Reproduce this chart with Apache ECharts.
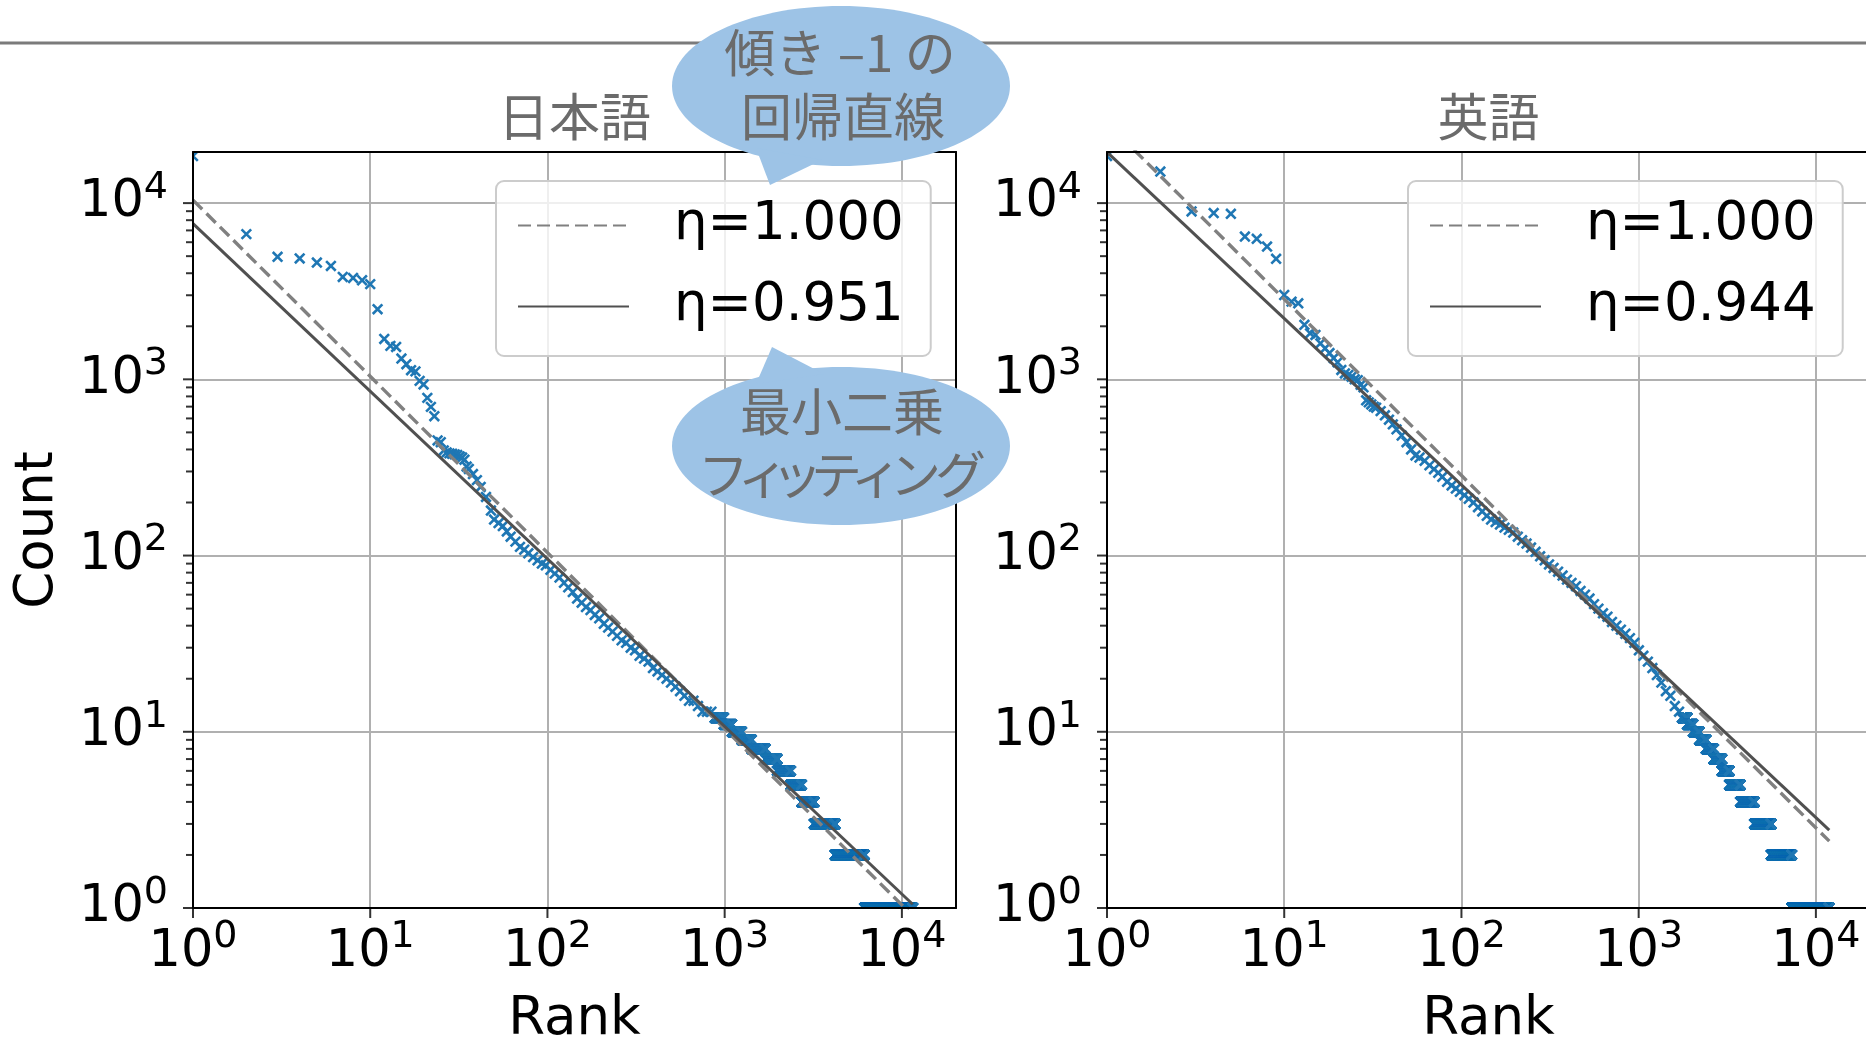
<!DOCTYPE html>
<html>
<head>
<meta charset="utf-8">
<script src="https://cdn.jsdelivr.net/npm/echarts@6/dist/echarts.min.js"></script>
<style>
  html, body { margin: 0; padding: 0; background: #ffffff; }
  #chart { width: 1866px; height: 1039px; }
</style>
</head>
<body>
<div id="chart"></div>
<script>
// ---------- word frequency by rank (Zipf plots) ----------
// Japanese corpus: individually listed ranks
const jaRank = [1,2,3,4,5,6,7,8,9,10,11,12,13,14,15,16,17,18,19,20,21,22,23,24,25,26,27,28,29,30,31,32,33,34,35,
  36,38,40,42,45,48,50,53,56,59,62,66,70,74,78,83,88,93,98,104,110,117,124,131,139,147,156,165,175,185,
  196,208,220,233,247,262,278,295,312,331,351,372,394,418,443,470,498,528,560,593,629,667,707,749,794,842];
const jaCount = [18500,6670,4960,4850,4600,4400,3810,3760,3650,3470,2500,1695,1548,1527,1312,1218,1127,1110,980,935,785,698,618,450,440,395,385,380,378,375,372,365,360,350,320,
  310,290,268,245,215,180,160,153,147,137,128,120,112,108,103,98,94,90,88,83,79,75,70,66,62,57,54,51,49,46,
  44,41,39,37,35,33,32,30,29,27,26,25,23,22,21,20,19,18,17,16,15,15,14,13,13,13];
// Japanese corpus: low counts shared by a block of consecutive ranks
const jaRunCount = [12, 11, 10, 9, 8, 7, 6, 5, 4, 3, 2, 1];
const jaRunFrom  = [880, 990, 1100, 1250, 1420, 1700, 1980, 2360, 2720, 3200, 4200, 6150];
const jaRunTo    = [989, 1099, 1249, 1419, 1699, 1979, 2359, 2719, 3199, 4199, 6149, 11500];

// English corpus: individually listed ranks
const enRank = [1,2,3,4,5,6,7,8,9,10,11,12,13,14,15,16,17,18,19,20,21,22,23,24,25,26,27,28,
  29,30,31,32,33,35,37,39,41,43,46,49,52,55,58,62,66,70,74,78,83,88,93,98,104,110,117,124,131,139,147,156,165,175,185,
  196,208,220,233,247,262,278,295,312,331,351,372,394,418,443,470,498,528,560,593,629,667,707,749,794,842,893,946,
  1003,1063,1127,1195,1267,1343,1424,1510,1600,1690];
const enCount = [18500,15100,8970,8780,8700,6460,6270,5670,4830,3010,2760,2700,2040,1825,1785,1600,1500,1410,1320,1250,1130,1080,1060,1035,1000,990,930,900,
  760,740,720,700,690,660,625,590,555,520,480,440,400,370,360,345,325,309,295,280,262,250,240,230,220,210,200,188,178,168,160,155,150,144,140,
  135,128,122,117,111,105,99,94,89,85,81,77,73,70,67,63,60,57,53,50,47,45,42,40,38,36,34,32,
  29,27,25,23,21,19,17,16,14,13];
// English corpus: low counts shared by a block of consecutive ranks
const enRunCount = [12, 11, 10, 9, 8, 7, 6, 5, 4, 3, 2, 1];
const enRunFrom  = [1760, 1880, 2030, 2200, 2400, 2650, 2950, 3250, 3750, 4500, 5600, 7300];
const enRunTo    = [1879, 2029, 2199, 2399, 2649, 2949, 3249, 3749, 4499, 5599, 7299, 11900];

// Fitted power laws: count = C * rank^(-eta)  [reference slope, least squares]
const jaEta  = [1.000, 0.951];
const jaFitC = [10400, 7640];
const enEta  = [1.000, 0.944];
const enFitC = [28500, 19450];

// Axis ranges and tick values
const rankMax = 20200;
const countMax = 19500;
const tickExponents = [0, 1, 2, 3, 4];
const minorMantissas = [2, 3, 4, 5, 6, 7, 8, 9];

// ---------- layout / style ----------
const FONT = 'DejaVu Sans';
const CJK = 'Noto Sans CJK JP';
const GRIDS = [
  { left: 193, top: 152, width: 763, height: 756 },
  { left: 1107, top: 152, width: 763, height: 756 }
];
const BLUE = '#1f77b4';
const DASH_COLOR = '#808080';
const SOLID_COLOR = '#505050';
const TEXT_GRAY = '#6b6b6b';
const BUBBLE = '#9dc3e6';

function powLabel(v) {
  const e = Math.log10(v), k = Math.round(e);
  return Math.abs(e - k) < 1e-6 ? '{b|10}{s|' + k + '}' : '';
}
const richPow = {
  b: { fontFamily: FONT, fontSize: 51, lineHeight: 51, color: '#000' },
  s: { fontFamily: FONT, fontSize: 38, height: 21, lineHeight: 21, verticalAlign: 'top', color: '#000' }
};

function mainX(g) {
  return {
    gridIndex: g, type: 'log', logBase: 10, min: 1, max: rankMax, position: 'bottom', z: 0,
    axisLine: { show: false }, axisTick: { show: false }, minorTick: { show: false },
    splitLine: { show: true, lineStyle: { color: '#b0b0b0', width: 2 } },
    axisLabel: { margin: 19, formatter: powLabel, rich: richPow },
    name: 'Rank', nameLocation: 'middle', nameGap: 86,
    nameTextStyle: { fontFamily: FONT, fontSize: 53, color: '#000' }
  };
}
function mainY(g, withName) {
  const ax = {
    gridIndex: g, type: 'log', logBase: 10, min: 1, max: countMax, position: 'left', z: 0,
    axisLine: { show: false }, axisTick: { show: false }, minorTick: { show: false },
    splitLine: { show: true, lineStyle: { color: '#b0b0b0', width: 2 } },
    axisLabel: { margin: 25, formatter: powLabel, rich: richPow }
  };
  if (withName) {
    Object.assign(ax, {
      name: 'Count', nameLocation: 'middle', nameRotate: 90, nameGap: 128,
      nameTextStyle: { fontFamily: FONT, fontSize: 53, color: '#000' }
    });
  }
  return ax;
}
function spine(g, position) {
  return {
    gridIndex: g, type: 'value', min: 0, max: 1, position: position, z: 4, silent: true,
    axisLine: { show: true, onZero: false, lineStyle: { color: '#000', width: 2 } },
    axisTick: { show: false }, axisLabel: { show: false }, splitLine: { show: false }
  };
}

// blue "x" markers, one per rank, clipped to the plotting area
function crossSeries(name, g, ranks, counts, runCount, runFrom, runTo) {
  const pts = ranks.map((r, i) => [r, counts[i]]);
  runCount.forEach((c, i) => {
    for (let r = runFrom[i]; r <= runTo[i]; r++) pts.push([r, c]);
  });
  return {
    type: 'custom', name: name, xAxisIndex: g, yAxisIndex: g, data: pts,
    z: 2, silent: true, animation: false, progressive: 0,
    renderItem(params, api) {
      const p = api.coord([api.value(0), api.value(1)]);
      const s = 4.8, x = p[0], y = p[1];
      const cs = params.coordSys;
      const el = {
        type: 'path',
        shape: { pathData: 'M' + (x - s) + ' ' + (y - s) + 'L' + (x + s) + ' ' + (y + s) +
                           'M' + (x + s) + ' ' + (y - s) + 'L' + (x - s) + ' ' + (y + s) },
        style: { stroke: BLUE, lineWidth: 2.6, fill: 'none' }
      };
      if (x - s < cs.x || x + s > cs.x + cs.width || y - s < cs.y || y + s > cs.y + cs.height) {
        el.clipPath = { type: 'rect', shape: { x: cs.x, y: cs.y, width: cs.width, height: cs.height } };
      }
      return el;
    }
  };
}

// fitted line from rank 1 to the last rank
function fitSeries(g, eta, c, lastRank, dashed) {
  return {
    type: 'line', name: 'η=' + eta.toFixed(3), xAxisIndex: g, yAxisIndex: g,
    data: [[1, c], [lastRank, c * Math.pow(lastRank, -eta)]],
    symbol: 'none', showSymbol: false, clip: true, z: 3, silent: true, animation: false,
    lineStyle: { color: dashed ? DASH_COLOR : SOLID_COLOR, width: dashed ? 3.4 : 3, type: dashed ? [13, 6] : 'solid' },
    itemStyle: { color: dashed ? DASH_COLOR : SOLID_COLOR }
  };
}

// tick marks drawn just outside the frame
function tickSeries(g, data, size, offset) {
  return {
    type: 'scatter', xAxisIndex: g, yAxisIndex: g, data: data,
    symbol: 'rect', symbolSize: size, symbolOffset: offset,
    itemStyle: { color: '#000' }, clip: false, silent: true, z: 5, animation: false
  };
}
const yMajor = tickExponents.map(k => [1, Math.pow(10, k)]);
const yMinor = [];
tickExponents.forEach(k => minorMantissas.forEach(m => {
  const v = m * Math.pow(10, k);
  if (v < countMax) yMinor.push([1, v]);
}));
const xMajor = tickExponents.map(k => [Math.pow(10, k), 1]);

function legendFor(names, left) {
  return {
    data: names, left: left, top: 181, orient: 'vertical', selectedMode: false, z: 6,
    padding: [18, 27, 23, 21], itemGap: 28, itemWidth: 111, itemHeight: 52,
    itemStyle: { opacity: 0 },
    backgroundColor: 'rgba(255,255,255,0.8)', borderColor: '#cccccc', borderWidth: 2, borderRadius: 8,
    textStyle: { fontFamily: FONT, fontSize: 53, color: '#000', padding: [0, 0, 0, 40] }
  };
}

const jaLast = jaRunTo[jaRunTo.length - 1];
const enLast = enRunTo[enRunTo.length - 1];

const option = {
  animation: false,
  backgroundColor: '#ffffff',
  title: [
    { text: '日本語', left: 574.5, top: 91, textAlign: 'center', padding: 0,
      textStyle: { fontFamily: CJK, fontSize: 51, fontWeight: 'normal', color: TEXT_GRAY } },
    { text: '英語', left: 1488.5, top: 91, textAlign: 'center', padding: 0,
      textStyle: { fontFamily: CJK, fontSize: 51, fontWeight: 'normal', color: TEXT_GRAY } }
  ],
  grid: GRIDS.map(g => Object.assign({ containLabel: false, outerBoundsMode: 'none', show: false }, g)),
  xAxis: [mainX(0), mainX(1), spine(0, 'top'), spine(0, 'bottom'), spine(1, 'top'), spine(1, 'bottom')],
  yAxis: [mainY(0, true), mainY(1, false), spine(0, 'left'), spine(0, 'right'), spine(1, 'left'), spine(1, 'right')],
  legend: [
    legendFor(['η=' + jaEta[0].toFixed(3), 'η=' + jaEta[1].toFixed(3)], 496),
    legendFor(['η=' + enEta[0].toFixed(3), 'η=' + enEta[1].toFixed(3)], 1408)
  ],
  series: [
    crossSeries('日本語', 0, jaRank, jaCount, jaRunCount, jaRunFrom, jaRunTo),
    crossSeries('英語', 1, enRank, enCount, enRunCount, enRunFrom, enRunTo),
    fitSeries(0, jaEta[0], jaFitC[0], jaLast, true),
    fitSeries(0, jaEta[1], jaFitC[1], jaLast, false),
    fitSeries(1, enEta[0], enFitC[0], enLast, true),
    fitSeries(1, enEta[1], enFitC[1], enLast, false),
    tickSeries(0, yMajor, [10, 2], [-5, 0]),
    tickSeries(0, yMinor, [7, 2], [-3.5, 0]),
    tickSeries(0, xMajor, [2, 10], [0, 5]),
    tickSeries(1, yMajor, [10, 2], [-5, 0]),
    tickSeries(1, yMinor, [7, 2], [-3.5, 0]),
    tickSeries(1, xMajor, [2, 10], [0, 5])
  ],
  graphic: [
    // rule across the top of the page
    { type: 'line', z: 1, silent: true, shape: { x1: 0, y1: 43, x2: 1866, y2: 43 },
      style: { stroke: '#7b7b7b', lineWidth: 3 } },
    // callout: slope -1 regression line
    { type: 'ellipse', z: 10, silent: true, shape: { cx: 841, cy: 86, rx: 169, ry: 80 }, style: { fill: BUBBLE } },
    { type: 'polygon', z: 10, silent: true, shape: { points: [[756, 148], [770, 185], [822, 160]] }, style: { fill: BUBBLE } },
    { type: 'text', z: 11, silent: true, x: 840, y: 53,
      style: { text: '傾き –1 の', font: '51px "' + CJK + '"', fill: TEXT_GRAY, align: 'center', verticalAlign: 'middle' } },
    { type: 'text', z: 11, silent: true, x: 843, y: 117,
      style: { text: '回帰直線', font: '51px "' + CJK + '"', fill: TEXT_GRAY, align: 'center', verticalAlign: 'middle' } },
    // callout: least squares fitting
    { type: 'ellipse', z: 10, silent: true, shape: { cx: 841, cy: 446, rx: 169, ry: 79 }, style: { fill: BUBBLE } },
    { type: 'polygon', z: 10, silent: true, shape: { points: [[756, 384], [772, 347], [824, 374]] }, style: { fill: BUBBLE } },
    { type: 'text', z: 11, silent: true, x: 842, y: 412,
      style: { text: '最小二乗', font: '51px "' + CJK + '"', fill: TEXT_GRAY, align: 'center', verticalAlign: 'middle' } },
    { type: 'text', z: 11, silent: true, x: 842, y: 475,
      style: {
        text: '{k|フ}{t|ィ}{t|ッ}{k|テ}{t|ィ}{k|ン}{k|グ}',
        font: '51px "' + CJK + '"', fill: TEXT_GRAY, align: 'center', verticalAlign: 'middle',
        rich: {
          k: { width: 45, align: 'center', fontFamily: CJK, fontSize: 51, fill: TEXT_GRAY },
          t: { width: 34, align: 'center', fontFamily: CJK, fontSize: 51, fill: TEXT_GRAY }
        }
      } }
  ]
};

const chart = echarts.init(document.getElementById('chart'), null, { renderer: 'canvas' });
chart.setOption(option);
</script>
</body>
</html>
